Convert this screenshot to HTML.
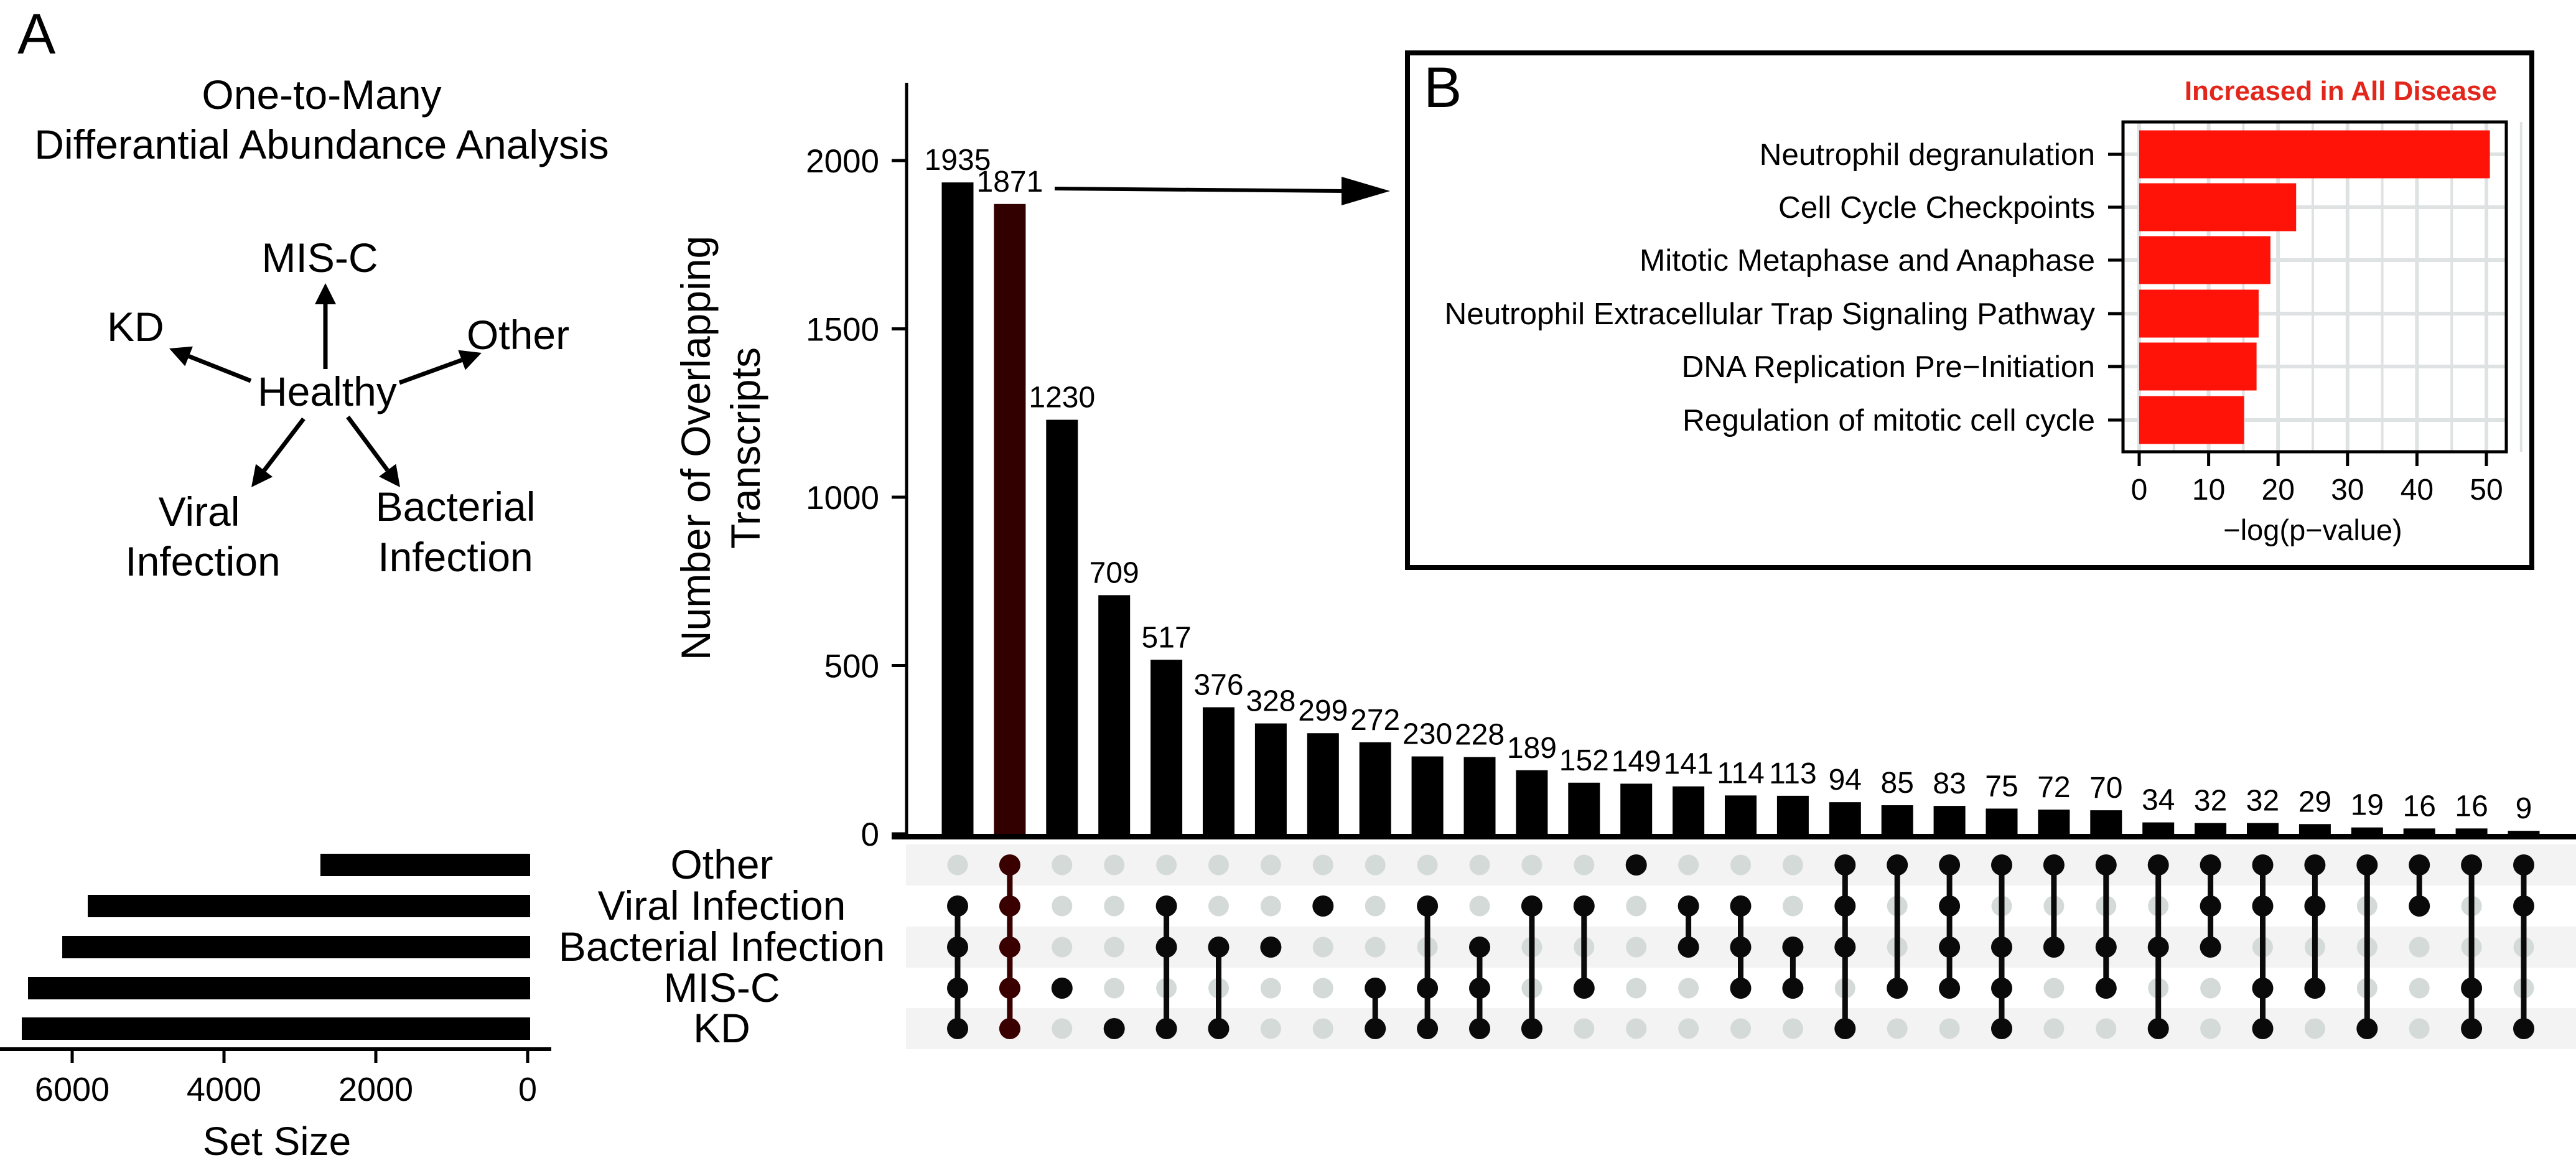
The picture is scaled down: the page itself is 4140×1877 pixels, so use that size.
<!DOCTYPE html>
<html><head><meta charset="utf-8"><style>
html,body{margin:0;padding:0;background:#fff}
svg{display:block;font-family:"Liberation Sans",Arial,sans-serif}
</style></head><body>
<svg id="fig" width="4140" height="1877" viewBox="0 0 4140 1877" xmlns="http://www.w3.org/2000/svg">
<rect x="0" y="0" width="4140" height="1877" fill="#fff"/>
<text x="28" y="86" font-size="92">A</text>
<g font-size="66" text-anchor="middle">
<text x="517" y="175">One-to-Many</text>
<text x="517" y="255">Differantial Abundance Analysis</text>
<text x="514" y="437">MIS-C</text>
<text x="172" y="548" text-anchor="start">KD</text>
<text x="750" y="561" text-anchor="start">Other</text>
<text x="414" y="652" text-anchor="start">Healthy</text>
<text x="320" y="845">Viral</text>
<text x="326" y="925">Infection</text>
<text x="732" y="837">Bacterial</text>
<text x="732" y="918">Infection</text>
</g>
<g id="arrows" stroke="#000" stroke-width="7" fill="#000"></g>
<g id="main"></g>
<g id="inset"></g>
</svg>
<script>
const NS="http://www.w3.org/2000/svg";
function mk(parent,tag,attrs,text){const e=document.createElementNS(NS,tag);for(const k in attrs)e.setAttribute(k,attrs[k]);if(text!==undefined)e.textContent=text;parent.appendChild(e);return e;}

// ---------------- data ----------------
const intersectionCounts=[1935,1871,1230,709,517,376,328,299,272,230,228,189,152,149,141,114,113,94,85,83,75,72,70,34,32,32,29,19,16,16,9];
const setNames=["Other","Viral Infection","Bacterial Infection","MIS-C","KD"];
const setSizes=[2730,5795,6131,6582,6664];
// membership per column: indices into setNames (0=Other,1=Viral,2=Bacterial,3=MIS-C,4=KD)
const memberships=[[1,2,3,4],[0,1,2,3,4],[3],[4],[1,2,4],[2,4],[2],[1],[3,4],[1,3,4],[2,3,4],[1,4],[1,3],[0],[1,2],[1,2,3],[2,3],[0,1,2,4],[0,3],[0,1,2,3],[0,2,3,4],[0,2],[0,2,3],[0,2,4],[0,1,2],[0,1,3,4],[0,1,3],[0,4],[0,1],[0,3,4],[0,1,4]];
const highlightIndex=1;
const yTicks=[0,500,1000,1500,2000];
const setSizeTicks=[0,2000,4000,6000];
const pathways=["Neutrophil degranulation","Cell Cycle Checkpoints","Mitotic Metaphase and Anaphase","Neutrophil Extracellular Trap Signaling Pathway","DNA Replication Pre\u2212Initiation","Regulation of mitotic cell cycle"];
const pathwayValues=[50.5,22.6,18.9,17.2,16.9,15.1];
const insetTicks=[0,10,20,30,40,50];

// ---------------- diagram arrows ----------------
const ar=document.getElementById('arrows');
function arrow(x1,y1,x2,y2,name){
  const dx=x2-x1,dy=y2-y1,L=Math.hypot(dx,dy),ux=dx/L,uy=dy/L,h=34,w=17;
  const bx=x2-ux*h,by=y2-uy*h;
  const l=mk(ar,'line',{x1:x1,y1:y1,x2:bx,y2:by});
  
  
  const p=mk(ar,'polygon',{points:`${x2},${y2} ${bx-uy*w},${by+ux*w} ${bx+uy*w},${by-ux*w}`,stroke:'none'});
  
  
}
arrow(523,593,523,455,'arrow-misc');
arrow(403,612,272,560,'arrow-kd');
arrow(642,615,774,567,'arrow-other');
arrow(488,673,404,783,'arrow-viral');
arrow(559,670,643,783,'arrow-bacterial');

// ---------------- main upset ----------------
const g=document.getElementById('main');
const X0=1539,DX=83.9,BW=51,Y0=1340,PPU=0.541;
const xc=i=>X0+i*DX;
const yv=v=>Y0-v*PPU;
const rowY=[1390,1456,1522,1588,1653];
const SX0=848,SPPU=244/2000;
const sx=v=>SX0-v*SPPU;

[0,2,4].forEach(r=>{const s=mk(g,'rect',{x:1456,y:rowY[r]-33,width:2684,height:66,fill:'#f3f3f3'});
 
 });

const ya=mk(g,'line',{x1:1457,y1:133,x2:1457,y2:1344,stroke:'#000','stroke-width':5});


yTicks.forEach(t=>{
  const tk=mk(g,'line',{x1:1433,x2:1457,y1:yv(t),y2:yv(t),stroke:'#000','stroke-width':5});
  
  
  const tl=mk(g,'text',{x:1413,y:yv(t)+19,'font-size':53,'text-anchor':'end'},String(t));
  
  
});
const yt=mk(g,'text',{transform:'translate(1141,720) rotate(-90)','font-size':66,'text-anchor':'middle'},'Number of Overlapping');


const yt2=mk(g,'text',{transform:'translate(1221,720) rotate(-90)','font-size':66,'text-anchor':'middle'},'Transcripts');



intersectionCounts.forEach((v,i)=>{
  const col=i===highlightIndex?'#330000':'#000';
  const b=mk(g,'rect',{x:xc(i)-BW/2,y:yv(v),width:BW,height:Y0-yv(v),fill:col});
  
  
  const t=mk(g,'text',{x:xc(i),y:yv(v)-20,'font-size':48,'text-anchor':'middle'},String(v));
  
  
});
const xa=mk(g,'line',{x1:1433,x2:4140,y1:1344.5,y2:1344.5,stroke:'#000','stroke-width':9});



memberships.forEach((m,i)=>{
  const col=i===highlightIndex?'#3a0000':'#0a0a0a';
  for(let r=0;r<5;r++){
    if(m.indexOf(r)<0){const d=mk(g,'circle',{cx:xc(i),cy:rowY[r],r:16.5,fill:'#d4dad8'});
      
      }
  }
  const rs=m.map(r=>rowY[r]);
  if(m.length>1){const l=mk(g,'line',{x1:xc(i),x2:xc(i),y1:Math.min(...rs),y2:Math.max(...rs),stroke:col,'stroke-width':9});
    
    }
  m.forEach(r=>{const d=mk(g,'circle',{cx:xc(i),cy:rowY[r],r:17,fill:col});
    
    });
});

setSizes.forEach((v,r)=>{
  const b=mk(g,'rect',{x:sx(v),y:rowY[r]-18,width:852-sx(v),height:36,fill:'#000'});
  
  
  const t=mk(g,'text',{x:1160,y:rowY[r]+22,'font-size':66,'text-anchor':'middle'},setNames[r]);
  
  
});
const sa=mk(g,'line',{x1:0,x2:886,y1:1686,y2:1686,stroke:'#000','stroke-width':6});


setSizeTicks.forEach(t=>{
  const tk=mk(g,'line',{x1:sx(t),x2:sx(t),y1:1686,y2:1708,stroke:'#000','stroke-width':5});
  
  
  const tl=mk(g,'text',{x:sx(t),y:1769,'font-size':54,'text-anchor':'middle'},String(t));
  
  
});
const st=mk(g,'text',{x:445,y:1856,'font-size':64,'text-anchor':'middle'},'Set Size');



const cl=mk(g,'line',{x1:1695,y1:303,x2:2160,y2:307,stroke:'#000','stroke-width':6});


const ch=mk(g,'polygon',{points:'2234,307 2156,284 2156,330',fill:'#000'});



// ---------------- inset ----------------
const ig=document.getElementById('inset');
const box=mk(ig,'rect',{x:2262,y:85,width:1807,height:827,fill:'#fff',stroke:'#000','stroke-width':8});


const bl=mk(ig,'text',{x:2288,y:172,'font-size':92},'B');


const it=mk(ig,'text',{x:4013,y:161,'font-size':44,'font-weight':'bold',fill:'#e3261b','text-anchor':'end'},'Increased in All Disease');


const PX0=3438,PPX=(3996-3438)/50;
const px=v=>PX0+v*PPX;
const rowC=[248,333,418,504,589,675];
const pr=mk(ig,'rect',{x:3412,y:196,width:616,height:530,fill:'#fff'});


for(let v=0;v<=55;v+=5){const l=mk(ig,'line',{x1:px(v),x2:px(v),y1:196,y2:726,stroke:'#dfe2e2','stroke-width':v%10===0?6:4});
  
  }
rowC.forEach(y=>{const l=mk(ig,'line',{x1:3412,x2:4028,y1:y,y2:y,stroke:'#dfe2e2','stroke-width':6});
  
  });
pathwayValues.forEach((v,i)=>{
  const b=mk(ig,'rect',{x:px(0),y:rowC[i]-38.5,width:px(v)-px(0),height:77,fill:'#ff1208'});
  
  
  const t=mk(ig,'text',{x:3367,y:rowC[i]+17,'font-size':49.5,'text-anchor':'end'},pathways[i]);
  
  
  const tk=mk(ig,'line',{x1:3388,x2:3412,y1:rowC[i],y2:rowC[i],stroke:'#000','stroke-width':5});
  
  
});
const pf=mk(ig,'rect',{x:3412,y:196,width:616,height:530,fill:'none',stroke:'#000','stroke-width':5});


insetTicks.forEach(t=>{
  const tk=mk(ig,'line',{x1:px(t),x2:px(t),y1:726,y2:749,stroke:'#000','stroke-width':5});
  
  
  const tl=mk(ig,'text',{x:px(t),y:803,'font-size':48,'text-anchor':'middle'},String(t));
  
  
});
const xt=mk(ig,'text',{x:3717,y:868,'font-size':47,'text-anchor':'middle'},'\u2212log(p\u2212value)');


</script>
</body></html>
